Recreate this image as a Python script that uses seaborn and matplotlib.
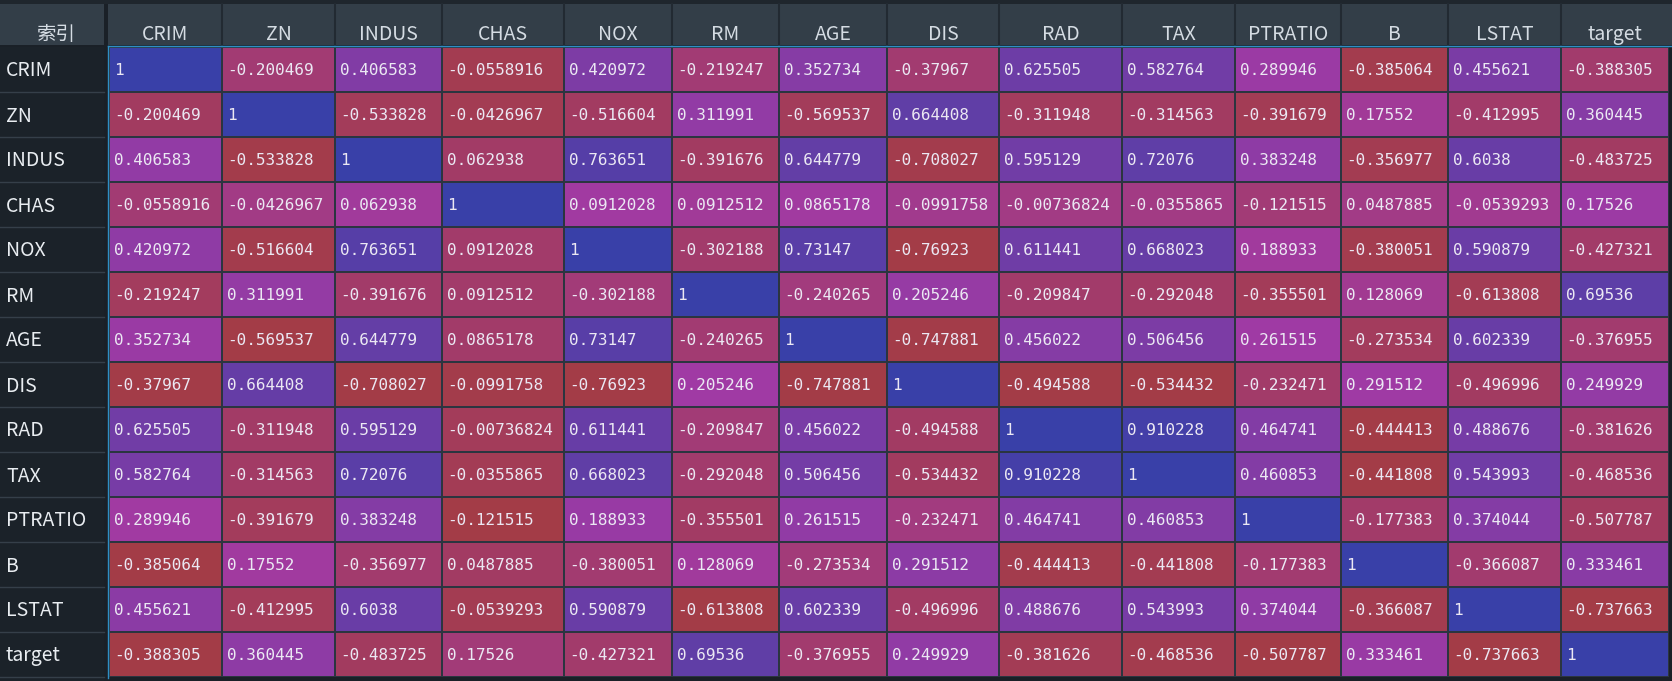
import matplotlib
matplotlib.use("Agg")
import matplotlib.pyplot as plt
import seaborn as sns
import numpy as np
import pandas as pd
from matplotlib.colors import LinearSegmentedColormap
from matplotlib.patches import Rectangle
from matplotlib.lines import Line2D
from matplotlib.transforms import offset_copy, blended_transform_factory

plt.rcParams["font.family"] = ["Noto Sans CJK SC", "DejaVu Sans"]

index_title = "索引"
features = ["CRIM", "ZN", "INDUS", "CHAS", "NOX", "RM", "AGE", "DIS",
            "RAD", "TAX", "PTRATIO", "B", "LSTAT", "target"]

crim = [1, -0.200469, 0.406583, -0.0558916, 0.420972, -0.219247, 0.352734,
        -0.37967, 0.625505, 0.582764, 0.289946, -0.385064, 0.455621, -0.388305]
zn = [-0.200469, 1, -0.533828, -0.0426967, -0.516604, 0.311991, -0.569537,
      0.664408, -0.311948, -0.314563, -0.391679, 0.17552, -0.412995, 0.360445]
indus = [0.406583, -0.533828, 1, 0.062938, 0.763651, -0.391676, 0.644779,
         -0.708027, 0.595129, 0.72076, 0.383248, -0.356977, 0.6038, -0.483725]
chas = [-0.0558916, -0.0426967, 0.062938, 1, 0.0912028, 0.0912512, 0.0865178,
        -0.0991758, -0.00736824, -0.0355865, -0.121515, 0.0487885, -0.0539293, 0.17526]
nox = [0.420972, -0.516604, 0.763651, 0.0912028, 1, -0.302188, 0.73147,
       -0.76923, 0.611441, 0.668023, 0.188933, -0.380051, 0.590879, -0.427321]
rm = [-0.219247, 0.311991, -0.391676, 0.0912512, -0.302188, 1, -0.240265,
      0.205246, -0.209847, -0.292048, -0.355501, 0.128069, -0.613808, 0.69536]
age = [0.352734, -0.569537, 0.644779, 0.0865178, 0.73147, -0.240265, 1,
       -0.747881, 0.456022, 0.506456, 0.261515, -0.273534, 0.602339, -0.376955]
dis = [-0.37967, 0.664408, -0.708027, -0.0991758, -0.76923, 0.205246, -0.747881,
       1, -0.494588, -0.534432, -0.232471, 0.291512, -0.496996, 0.249929]
rad = [0.625505, -0.311948, 0.595129, -0.00736824, 0.611441, -0.209847, 0.456022,
       -0.494588, 1, 0.910228, 0.464741, -0.444413, 0.488676, -0.381626]
tax = [0.582764, -0.314563, 0.72076, -0.0355865, 0.668023, -0.292048, 0.506456,
       -0.534432, 0.910228, 1, 0.460853, -0.441808, 0.543993, -0.468536]
ptratio = [0.289946, -0.391679, 0.383248, -0.121515, 0.188933, -0.355501, 0.261515,
           -0.232471, 0.464741, 0.460853, 1, -0.177383, 0.374044, -0.507787]
b = [-0.385064, 0.17552, -0.356977, 0.0487885, -0.380051, 0.128069, -0.273534,
     0.291512, -0.444413, -0.441808, -0.177383, 1, -0.366087, 0.333461]
lstat = [0.455621, -0.412995, 0.6038, -0.0539293, 0.590879, -0.613808, 0.602339,
         -0.496996, 0.488676, 0.543993, 0.374044, -0.366087, 1, -0.737663]
target = [-0.388305, 0.360445, -0.483725, 0.17526, -0.427321, 0.69536, -0.376955,
          0.249929, -0.381626, -0.468536, -0.507787, 0.333461, -0.737663, 1]

corr = pd.DataFrame([crim, zn, indus, chas, nox, rm, age, dis, rad, tax,
                     ptratio, b, lstat, target], index=features, columns=features)

# colour each column by its own min..max (like a per-column gradient)
norm = (corr - corr.min()) / (corr.max() - corr.min())

cmap = LinearSegmentedColormap.from_list("rmb", ["#a33c47", "#a13aa4", "#3940a8"])

W, H = 1672, 681
fig = plt.figure(figsize=(W / 100, H / 100), dpi=100, facecolor="#1a2027")


def box(x0, y0, x1, y1, color):
    fig.add_artist(Rectangle((x0 / W, 1 - y1 / H), (x1 - x0) / W, (y1 - y0) / H,
                             transform=fig.transFigure, facecolor=color,
                             edgecolor="none", zorder=-5))


# header strip and index column
box(0, 0, W, 4, "#1f262d")
box(0, 4, 104, 45, "#333e48")
box(108, 4, W, 45, "#333e48")
box(0, 47, 104, H, "#1b2229")

# pixel edges of the table columns (Qt sized them to content)
col_edges = [109, 222, 335, 442, 564, 672, 779, 887, 999, 1122, 1235, 1341, 1448, 1561, 1669]
edge_idx = np.arange(len(col_edges))

ax = fig.add_axes([109 / W, 1 - 677 / H, (1669 - 109) / W, (677 - 47) / H])
sns.heatmap(norm, ax=ax, cmap=cmap, vmin=0, vmax=1, cbar=False,
            linewidths=1.4, linecolor="#2b3540",
            xticklabels=False, yticklabels=False)
ax.set_xscale("function", functions=(lambda x: np.interp(x, edge_idx, col_edges),
                                     lambda p: np.interp(p, col_edges, edge_idx)))
ax.set_xlim(0, len(features))
ax.set_ylim(len(features), 0)
ax.set_axis_off()

# cell values
cell_tr = offset_copy(ax.transData, fig=fig, x=5, y=-5.6, units="dots")
for i in range(len(features)):
    for j in range(len(features)):
        ax.text(j, i + 0.5, "{:g}".format(corr.iat[i, j]), transform=cell_tr,
                ha="left", va="baseline", fontsize=11.5, family="DejaVu Sans Mono",
                color="#ebe8f3")

# column headers
hdr_tr = blended_transform_factory(ax.transData, fig.transFigure)
for j, name in enumerate(features):
    ax.text(j + 0.5, 1 - 40 / H, name, transform=hdr_tr, ha="center", va="baseline",
            fontsize=14, color="#d5dce3")
    if j > 0:
        fig.add_artist(Line2D([j, j], [1 - 4 / H, 1 - 45 / H], transform=hdr_tr,
                              color="#222a32", lw=1.5))
fig.text(56 / W, 1 - 40 / H, index_title, ha="center", va="baseline",
         fontsize=14, color="#d5dce3")

# row labels
row_tr = offset_copy(blended_transform_factory(fig.transFigure, ax.transData),
                     fig=fig, y=-7, units="dots")
sep_tr = blended_transform_factory(fig.transFigure, ax.transData)
for i, name in enumerate(features):
    ax.text(6 / W, i + 0.5, name, transform=row_tr, ha="left", va="baseline",
            fontsize=14, color="#e9edf1")
    fig.add_artist(Line2D([0, 104 / W], [i + 1, i + 1], transform=sep_tr,
                          color="#353f49", lw=1))

# focus frame of the table
fig.add_artist(Line2D([108 / W, 1], [1 - 46 / H, 1 - 46 / H], transform=fig.transFigure,
                      color="#2e8ec4", lw=1))
fig.add_artist(Line2D([108 / W, 108 / W], [1 - 46 / H, 1 - 678 / H], transform=fig.transFigure,
                      color="#2e8ec4", lw=1))

fig.savefig("out.png", dpi=100, facecolor=fig.get_facecolor())
